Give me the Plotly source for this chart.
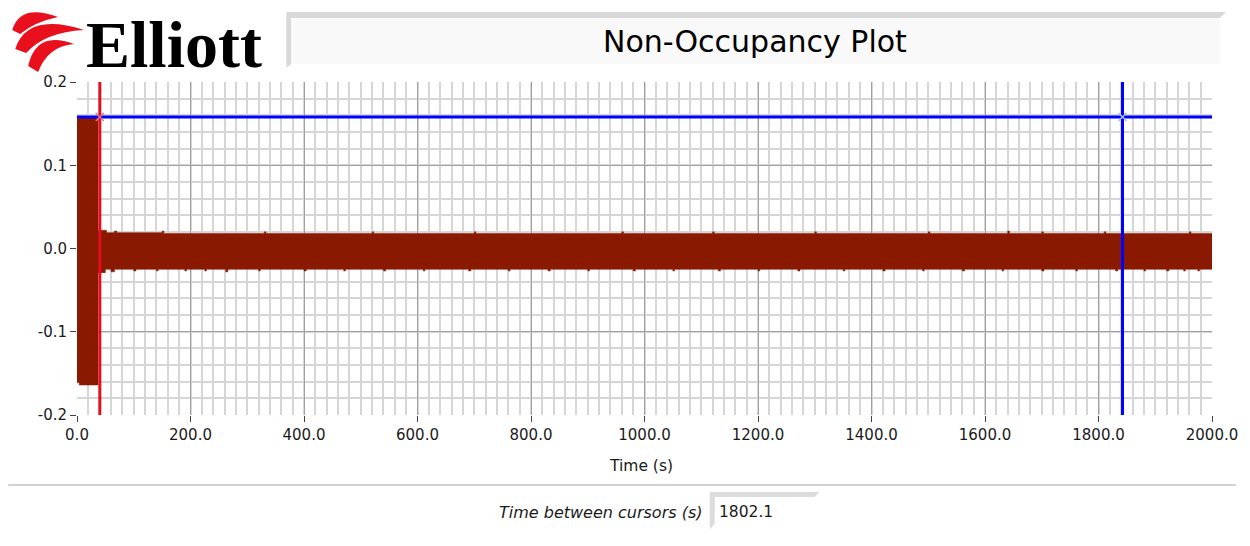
import plotly.graph_objects as go

# ---------------- data ----------------
x_ticks = [0, 200, 400, 600, 800, 1000, 1200, 1400, 1600, 1800, 2000]
x_tick_labels = ["0.0", "200.0", "400.0", "600.0", "800.0", "1000.0",
                 "1200.0", "1400.0", "1600.0", "1800.0", "2000.0"]
y_ticks = [-0.2, -0.1, 0.0, 0.1, 0.2]
y_tick_labels = ["-0.2", "-0.1", "0.0", "0.1", "0.2"]

# envelope of the dense signal, as steps: (start time, value)
upper_t = [0, 37, 52, 66, 70, 150, 153, 330, 333, 520, 523, 700, 703, 960, 963,
           1120, 1123, 1300, 1303, 1500, 1503, 1640, 1643, 1700, 1703, 1810, 1813,
           1960, 1963]
upper_v = [0.157, 0.022, 0.019, 0.021, 0.019, 0.021, 0.018, 0.020, 0.018, 0.020, 0.018,
           0.020, 0.018, 0.020, 0.018, 0.020, 0.018, 0.020, 0.018, 0.020, 0.018,
           0.021, 0.018, 0.020, 0.018, 0.020, 0.018, 0.020, 0.018]
lower_t = [0, 4, 37, 50, 60, 66, 100, 104, 140, 143, 190, 193, 225, 228, 262, 266,
           320, 323, 400, 404, 470, 473, 540, 544, 610, 613, 690, 694, 760, 763,
           830, 834, 900, 903, 980, 984, 1050, 1053, 1130, 1134, 1200, 1203,
           1270, 1274, 1350, 1353, 1420, 1424, 1490, 1493, 1560, 1564, 1630, 1633,
           1700, 1704, 1760, 1763, 1830, 1834, 1880, 1883, 1920, 1924, 1950, 1953,
           1975, 1978]
lower_v = [-0.161, -0.164, -0.029, -0.025, -0.028, -0.025, -0.027, -0.025, -0.027, -0.025,
           -0.027, -0.025, -0.027, -0.025, -0.028, -0.025, -0.027, -0.025, -0.027, -0.025,
           -0.027, -0.025, -0.027, -0.025, -0.027, -0.025, -0.027, -0.025, -0.027, -0.025,
           -0.027, -0.025, -0.027, -0.025, -0.027, -0.025, -0.027, -0.025, -0.027, -0.025,
           -0.027, -0.025, -0.027, -0.025, -0.027, -0.025, -0.027, -0.025, -0.027, -0.025,
           -0.027, -0.025, -0.027, -0.025, -0.027, -0.025, -0.027, -0.025, -0.027, -0.025,
           -0.027, -0.025, -0.027, -0.025, -0.027, -0.025, -0.027, -0.025]
t_end = 2000

cursor1_t = 40.2
cursor2_t = 1842.3
cursor_level = 0.158
time_between = "1802.1"

# ---------------- geometry helpers ----------------
OFF = 8  # page body margin of the browser
W, H = 1250 - OFF, 546 - OFF
L, R, T, B = 77 - OFF, 1216 - OFF, 82 - OFF, 415 - OFF


def px(x):
    return (x - OFF - L) / (R - L)


def py(y):
    return (B - (y - OFF)) / (B - T)


def steps(ts, vs, end):
    xs, ys = [], []
    for i, (t, v) in enumerate(zip(ts, vs)):
        nxt = ts[i + 1] if i + 1 < len(ts) else end
        xs += [t, nxt]
        ys += [v, v]
    return xs, ys


ux, uy = steps(upper_t, upper_v, t_end)
lx, ly = steps(lower_t, lower_v, t_end)
poly_x = ux + lx[::-1]
poly_y = uy + ly[::-1]

DATA_COL = "#891900"
RED = "#E0101E"
BLUE = "#0000FF"

fig = go.Figure()
fig.add_trace(go.Scatter(x=poly_x, y=poly_y, fill="toself", fillcolor=DATA_COL,
                         mode="lines", line=dict(color=DATA_COL, width=0.5),
                         hoverinfo="skip", showlegend=False))
# cursors
fig.add_trace(go.Scatter(x=[cursor1_t, cursor1_t], y=[-0.2, 0.2], mode="lines",
                         line=dict(color=RED, width=3), showlegend=False))
fig.add_trace(go.Scatter(x=[cursor2_t, cursor2_t], y=[-0.2, 0.2], mode="lines",
                         line=dict(color=BLUE, width=3), showlegend=False))
fig.add_trace(go.Scatter(x=[0, 2000], y=[cursor_level, cursor_level], mode="lines",
                         line=dict(color=BLUE, width=3), showlegend=False))
fig.add_trace(go.Scatter(x=[cursor1_t], y=[cursor_level], mode="markers",
                         marker=dict(symbol="x-thin", size=8,
                                     line=dict(color="#F07080", width=1.5)),
                         showlegend=False))
fig.add_trace(go.Scatter(x=[cursor2_t], y=[cursor_level], mode="markers",
                         marker=dict(symbol="x-thin", size=8,
                                     line=dict(color="#A8C0F0", width=1.5)),
                         showlegend=False))

FONT = "DejaVu Sans"
axis_common = dict(showline=False, zeroline=False, ticks="outside", ticklen=6,
                   tickcolor="#404040", tickwidth=1,
                   gridcolor="#A0A0A0", gridwidth=1.2,
                   tickfont=dict(family=FONT, size=15, color="#1a1a1a"))
fig.update_xaxes(range=[0, 2000], tickmode="array", tickvals=x_ticks,
                 ticktext=x_tick_labels,
                 minor=dict(dtick=20, showgrid=True, gridcolor="#D6D6D6", gridwidth=2),
                 **axis_common)
fig.update_yaxes(range=[-0.2, 0.2], tickmode="array", tickvals=y_ticks,
                 ticktext=y_tick_labels,
                 minor=dict(dtick=0.02, showgrid=True, gridcolor="#D6D6D6", gridwidth=2),
                 **axis_common)

shapes = []
# title box bevel + face
shapes.append(dict(type="path", xref="paper", yref="paper", layer="above",
                   path=f"M {px(287)},{py(12)} L {px(1230)},{py(12)} L {px(1224)},{py(18)} "
                        f"L {px(292)},{py(18)} L {px(292)},{py(64)} L {px(287)},{py(68)} Z",
                   fillcolor="#D9D9D9", line=dict(width=0)))
shapes.append(dict(type="rect", xref="paper", yref="paper", layer="above",
                   x0=px(292), x1=px(1224), y0=py(64), y1=py(18),
                   fillcolor="#F9F9F9", line=dict(width=0)))
# bottom separator
shapes.append(dict(type="line", xref="paper", yref="paper", layer="above",
                   x0=px(8), x1=px(1240), y0=py(485), y1=py(485),
                   line=dict(color="#D2D2D2", width=2)))
# value box
shapes.append(dict(type="path", xref="paper", yref="paper", layer="above",
                   path=f"M {px(712)},{py(492)} L {px(822)},{py(492)} L {px(817)},{py(497)} "
                        f"L {px(717)},{py(497)} L {px(717)},{py(524)} L {px(712)},{py(529)} Z",
                   fillcolor="#DCDCDC", line=dict(width=0)))
# logo swooshes
LOGO_RED = "#E8101C"
for pts in [
    [(12, 30), (20, 3), (58, 17), (34, 22), (20, 34)],
    [(15, 49), (27, 12), (84, 30), (45, 32), (26, 53)],
    [(28, 66), (36, 30), (74, 44), (48, 46), (38, 72)],
]:
    (x0, y0), (c1x, c1y), (x1, y1), (c2x, c2y), (x2, y2) = pts
    shapes.append(dict(type="path", xref="paper", yref="paper", layer="above",
                       path=f"M {px(x0)},{py(y0)} Q {px(c1x)},{py(c1y)} {px(x1)},{py(y1)} "
                            f"Q {px(c2x)},{py(c2y)} {px(x2)},{py(y2)} Z",
                       fillcolor=LOGO_RED, line=dict(width=0)))

annotations = [
    dict(text="<b>Elliott</b>", x=px(84), y=py(45), xref="paper", yref="paper",
         xanchor="left", yanchor="middle", showarrow=False,
         font=dict(family="Liberation Serif", size=66, color="#000000"),
         ),
    dict(text="Non-Occupancy Plot", x=px(757), y=py(41), xref="paper", yref="paper",
         xanchor="center", yanchor="middle", showarrow=False,
         font=dict(family=FONT, size=30, color="#000000")),
    dict(text="Time (s)", x=px(643), y=py(466), xref="paper", yref="paper",
         xanchor="center", yanchor="middle", showarrow=False,
         font=dict(family=FONT, size=15.5, color="#1a1a1a")),
    dict(text="<i>Time between cursors (s)</i>", x=px(706), y=py(512), xref="paper",
         yref="paper", xanchor="right", yanchor="middle", showarrow=False,
         font=dict(family=FONT, size=16, color="#1a1a1a")),
    dict(text=time_between, x=px(719), y=py(512), xref="paper", yref="paper",
         xanchor="left", yanchor="middle", showarrow=False,
         font=dict(family=FONT, size=15.5, color="#1a1a1a")),
]

fig.update_layout(width=W, height=H, margin=dict(l=L, r=W - R, t=T, b=H - B),
                  paper_bgcolor="white", plot_bgcolor="white",
                  shapes=shapes, annotations=annotations, showlegend=False)

fig.write_html("out.html")
